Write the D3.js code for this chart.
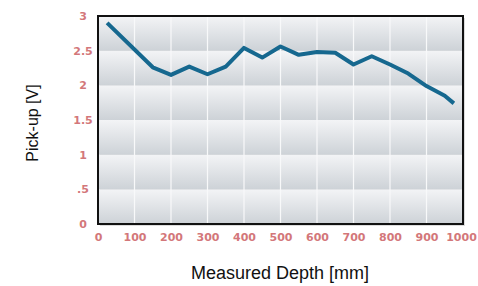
<!DOCTYPE html>
<html>
<head>
<meta charset="utf-8">
<script src="https://cdn.jsdelivr.net/npm/d3@7"></script>
<style>
  body { margin: 0; background: #fff; }
  .tick text { font-family: "DejaVu Sans", sans-serif; font-weight: bold; font-size: 11px; fill: #d3777a; }
  .title { font-family: "Liberation Sans", Arial, sans-serif; fill: #111; }
</style>
</head>
<body>
<script>
var depth = [25, 150, 200, 250, 300, 350, 400, 450, 500, 550, 600, 650, 700, 750, 800, 850, 900, 950, 975];
var pickup = [2.9, 2.26, 2.15, 2.27, 2.16, 2.27, 2.54, 2.40, 2.56, 2.44, 2.48, 2.47, 2.30, 2.42, 2.30, 2.17, 1.99, 1.85, 1.74];
var xTicks = [0, 100, 200, 300, 400, 500, 600, 700, 800, 900, 1000];
var yTicks = [0, 0.5, 1, 1.5, 2, 2.5, 3];
var yTickLabels = ['0', '.5', '1', '1.5', '2', '2.5', '3'];

(function () {
  var svg, defs, grad, plot, x, y, line, width, height, left, top, right, bottom;

  width = 478;
  height = 286;
  left = 98;
  right = 463;
  top = 16;
  bottom = 224;

  x = d3.scaleLinear().domain([0, 1000]).range([left, right]);
  y = d3.scaleLinear().domain([0, 3]).range([bottom, top]);

  svg = d3.select('body')
    .append('svg')
    .attr('width', width)
    .attr('height', height);

  defs = svg.append('defs');
  grad = defs.append('linearGradient')
    .attr('id', 'band')
    .attr('x1', 0).attr('y1', 0)
    .attr('x2', 0).attr('y2', 1);
  grad.append('stop').attr('offset', '0%').attr('stop-color', '#f3f4f6');
  grad.append('stop').attr('offset', '100%').attr('stop-color', '#cdd2d7');

  // shadow behind the frame
  svg.append('rect')
    .attr('x', left + 2).attr('y', top + 2)
    .attr('width', right - left).attr('height', bottom - top)
    .attr('fill', '#dcdcdc');

  plot = svg.append('g');

  // gradient bands, one per half volt
  plot.selectAll('rect.band')
    .data(yTicks.slice(0, -1))
    .enter()
    .append('rect')
    .attr('class', 'band')
    .attr('x', left)
    .attr('width', right - left)
    .attr('y', function (d) { return y(d + 0.5); })
    .attr('height', function (d) { return y(d) - y(d + 0.5); })
    .attr('fill', 'url(#band)');

  // vertical grid lines
  plot.selectAll('line.vgrid')
    .data(xTicks.slice(1, -1))
    .enter()
    .append('line')
    .attr('class', 'vgrid')
    .attr('x1', function (d) { return x(d); })
    .attr('x2', function (d) { return x(d); })
    .attr('y1', top)
    .attr('y2', bottom)
    .attr('stroke', '#f8f9fa')
    .attr('stroke-width', 1.2);

  line = d3.line()
    .x(function (d, i) { return x(depth[i]); })
    .y(function (d) { return y(d); });

  plot.append('path')
    .datum(pickup)
    .attr('d', line)
    .attr('fill', 'none')
    .attr('stroke', '#16688f')
    .attr('stroke-width', 4)
    .attr('stroke-linejoin', 'round');

  // frame
  svg.append('rect')
    .attr('x', left).attr('y', top)
    .attr('width', right - left).attr('height', bottom - top)
    .attr('fill', 'none')
    .attr('stroke', '#111')
    .attr('stroke-width', 2);

  svg.append('g')
    .attr('transform', 'translate(' + left + ',0)')
    .call(d3.axisLeft(y).tickValues(yTicks).tickSize(0).tickFormat(function (d, i) { return yTickLabels[i]; }))
    .call(function (g) { g.select('.domain').remove(); })
    .selectAll('text')
    .attr('text-anchor', 'middle')
    .attr('x', -15);

  svg.append('g')
    .attr('transform', 'translate(0,' + bottom + ')')
    .call(d3.axisBottom(x).tickValues(xTicks).tickSize(0).tickPadding(9).tickFormat(d3.format('d')))
    .call(function (g) { g.select('.domain').remove(); })
    .selectAll('text')
    .attr('dx', function (d) { return d === 1000 ? -2 : 0; });

  svg.append('text')
    .attr('class', 'title')
    .attr('text-anchor', 'middle')
    .attr('font-size', 18)
    .attr('x', 280)
    .attr('y', 279)
    .text('Measured Depth [mm]');

  svg.append('text')
    .attr('class', 'title')
    .attr('text-anchor', 'middle')
    .attr('font-size', 16)
    .attr('transform', 'translate(38,123) rotate(-90)')
    .text('Pick-up [V]');
}());
</script>
</body>
</html>
